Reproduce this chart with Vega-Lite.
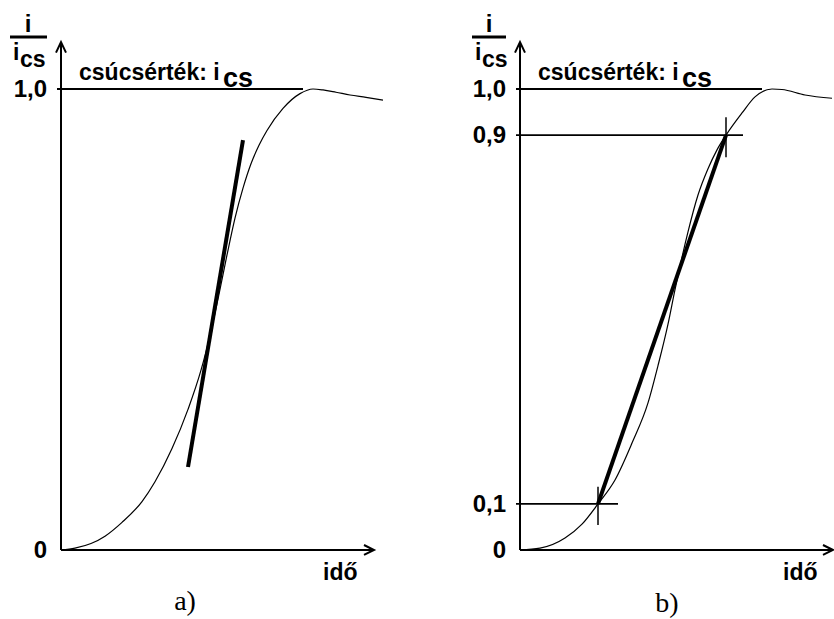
{
  "$schema": "https://vega.github.io/schema/vega-lite/v6.json",
  "background": "white",
  "padding": 0,
  "spacing": 0,
  "bounds": "flush",
  "config": {"view": {"stroke": null}, "text": {"font": "Liberation Sans", "fontWeight": "bold", "fontSize": 23, "color": "black"}},
  "datasets": {
    "curve": [
      {"p": "a", "t": 0, "v": 0}, {"p": "a", "t": 14, "v": 0.004}, {"p": "a", "t": 30, "v": 0.014}, {"p": "a", "t": 44, "v": 0.03},
      {"p": "a", "t": 61, "v": 0.06}, {"p": "a", "t": 81, "v": 0.105}, {"p": "a", "t": 94, "v": 0.148}, {"p": "a", "t": 111, "v": 0.22},
      {"p": "a", "t": 127, "v": 0.305}, {"p": "a", "t": 140, "v": 0.39}, {"p": "a", "t": 150, "v": 0.475}, {"p": "a", "t": 158, "v": 0.555},
      {"p": "a", "t": 166, "v": 0.64}, {"p": "a", "t": 174, "v": 0.72}, {"p": "a", "t": 182, "v": 0.785}, {"p": "a", "t": 190, "v": 0.838},
      {"p": "a", "t": 198, "v": 0.878}, {"p": "a", "t": 206, "v": 0.91}, {"p": "a", "t": 222, "v": 0.958}, {"p": "a", "t": 239, "v": 0.99},
      {"p": "a", "t": 252, "v": 1.0}, {"p": "a", "t": 262, "v": 0.998}, {"p": "a", "t": 275, "v": 0.993}, {"p": "a", "t": 289, "v": 0.987},
      {"p": "a", "t": 305, "v": 0.982}, {"p": "a", "t": 322, "v": 0.976},
      {"p": "b", "t": 0, "v": 0}, {"p": "b", "t": 20, "v": 0.004}, {"p": "b", "t": 45, "v": 0.026}, {"p": "b", "t": 62, "v": 0.056},
      {"p": "b", "t": 78, "v": 0.1}, {"p": "b", "t": 95, "v": 0.152}, {"p": "b", "t": 112, "v": 0.232}, {"p": "b", "t": 128, "v": 0.319},
      {"p": "b", "t": 138, "v": 0.4}, {"p": "b", "t": 148, "v": 0.49}, {"p": "b", "t": 155, "v": 0.565}, {"p": "b", "t": 162, "v": 0.635},
      {"p": "b", "t": 168, "v": 0.69}, {"p": "b", "t": 178, "v": 0.77}, {"p": "b", "t": 188, "v": 0.827}, {"p": "b", "t": 197, "v": 0.868},
      {"p": "b", "t": 206, "v": 0.9}, {"p": "b", "t": 222, "v": 0.948}, {"p": "b", "t": 235, "v": 0.983}, {"p": "b", "t": 252, "v": 1.0},
      {"p": "b", "t": 262, "v": 0.999}, {"p": "b", "t": 285, "v": 0.987}, {"p": "b", "t": 312, "v": 0.98}
    ],
    "frame": [
      {"part": "yaxis", "o": 0, "t": 0, "v": 0}, {"part": "yaxis", "o": 1, "t": 0, "v": 1.102},
      {"part": "xaxis", "o": 0, "t": 0, "v": 0}, {"part": "xaxis", "o": 1, "t": 313, "v": 0},
      {"part": "yhead", "o": 0, "t": -5, "v": 1.079}, {"part": "yhead", "o": 1, "t": 0, "v": 1.102}, {"part": "yhead", "o": 2, "t": 5, "v": 1.079},
      {"part": "xhead", "o": 0, "t": 303, "v": 0.0108}, {"part": "xhead", "o": 1, "t": 313, "v": 0}, {"part": "xhead", "o": 2, "t": 303, "v": -0.0108}
    ],
    "hlines": [
      {"p": "a", "t": -4, "t2": 242, "v": 1.0},
      {"p": "b", "t": -4, "t2": 242, "v": 1.0},
      {"p": "b", "t": -4, "t2": 223, "v": 0.9},
      {"p": "b", "t": -4, "t2": 98, "v": 0.1}
    ],
    "vticks": [
      {"p": "b", "t": 206, "v": 0.852, "v2": 0.939},
      {"p": "b", "t": 78, "v": 0.054, "v2": 0.137}
    ],
    "bars": [
      {"p": "a", "t": -51, "t2": -14, "v": 1.1128},
      {"p": "b", "t": -48, "t2": -14, "v": 1.1128}
    ],
    "thick": [
      {"p": "a", "t": 127, "v": 0.18}, {"p": "a", "t": 182, "v": 0.889},
      {"p": "b", "t": 78, "v": 0.1}, {"p": "b", "t": 206, "v": 0.9}
    ],
    "labels": [
      {"p": "a", "k": "left", "t": 18, "v": 1.0195, "label": "csúcsérték: i"},
      {"p": "a", "k": "sub", "t": 162, "v": 1.0043, "label": "cs"},
      {"p": "a", "k": "right", "t": -14, "v": 0.9826, "label": "1,0"},
      {"p": "a", "k": "right", "t": -14, "v": -0.0174, "label": "0"},
      {"p": "a", "k": "left", "t": 262, "v": -0.065, "label": "idő"},
      {"p": "a", "k": "serif", "t": 124, "v": -0.13, "label": "a)"},
      {"p": "a", "k": "center", "t": -33, "v": 1.1236, "label": "i"},
      {"p": "a", "k": "left", "t": -48, "v": 1.063, "label": "i"},
      {"p": "a", "k": "left", "t": -41, "v": 1.048, "label": "cs"},
      {"p": "b", "k": "left", "t": 18, "v": 1.0195, "label": "csúcsérték: i"},
      {"p": "b", "k": "sub", "t": 162, "v": 1.0043, "label": "cs"},
      {"p": "b", "k": "right", "t": -14, "v": 0.9826, "label": "1,0"},
      {"p": "b", "k": "right", "t": -14, "v": 0.8826, "label": "0,9"},
      {"p": "b", "k": "right", "t": -14, "v": 0.0826, "label": "0,1"},
      {"p": "b", "k": "right", "t": -14, "v": -0.0174, "label": "0"},
      {"p": "b", "k": "left", "t": 263, "v": -0.065, "label": "idő"},
      {"p": "b", "k": "serif", "t": 147, "v": -0.134, "label": "b)"},
      {"p": "b", "k": "center", "t": -31, "v": 1.1236, "label": "i"},
      {"p": "b", "k": "left", "t": -45, "v": 1.063, "label": "i"},
      {"p": "b", "k": "left", "t": -38, "v": 1.048, "label": "cs"}
    ]
  },
  "hconcat": [
    {
      "width": 390,
      "height": 619,
      "encoding": {
        "x": {"field": "t", "type": "quantitative", "scale": {"domain": [-61, 329], "nice": false, "zero": false}, "axis": null},
        "y": {"field": "v", "type": "quantitative", "scale": {"domain": [-0.1497, 1.1931], "nice": false, "zero": false}, "axis": null}
      },
      "layer": [
        {"data": {"name": "hlines"}, "transform": [{"filter": "datum.p === 'a'"}], "mark": {"type": "rule", "color": "black", "strokeWidth": 1.8}, "encoding": {"x2": {"field": "t2"}}},
        {"data": {"name": "bars"}, "transform": [{"filter": "datum.p === 'a'"}], "mark": {"type": "rule", "color": "black", "strokeWidth": 3}, "encoding": {"x2": {"field": "t2"}}},
        {"data": {"name": "frame"}, "mark": {"type": "line", "color": "black", "strokeWidth": 2, "strokeJoin": "miter"}, "encoding": {"detail": {"field": "part"}, "order": {"field": "o", "type": "quantitative"}}},
        {"data": {"name": "curve"}, "transform": [{"filter": "datum.p === 'a'"}], "mark": {"type": "line", "color": "black", "strokeWidth": 1.2, "interpolate": "monotone"}, "encoding": {}},
        {"data": {"name": "thick"}, "transform": [{"filter": "datum.p === 'a'"}], "mark": {"type": "line", "color": "black", "strokeWidth": 4}, "encoding": {}},
        {"data": {"name": "labels"}, "transform": [{"filter": "datum.p === 'a' && datum.k === 'left'"}], "mark": {"type": "text", "align": "left", "baseline": "alphabetic"}, "encoding": {"text": {"field": "label"}}},
        {"data": {"name": "labels"}, "transform": [{"filter": "datum.p === 'a' && datum.k === 'sub'"}], "mark": {"type": "text", "align": "left", "baseline": "alphabetic", "fontSize": 27}, "encoding": {"text": {"field": "label"}}},
        {"data": {"name": "labels"}, "transform": [{"filter": "datum.p === 'a' && datum.k === 'right'"}], "mark": {"type": "text", "align": "right", "baseline": "alphabetic", "fontSize": 24}, "encoding": {"text": {"field": "label"}}},
        {"data": {"name": "labels"}, "transform": [{"filter": "datum.p === 'a' && datum.k === 'center'"}], "mark": {"type": "text", "align": "center", "baseline": "alphabetic", "fontSize": 24}, "encoding": {"text": {"field": "label"}}},
        {"data": {"name": "labels"}, "transform": [{"filter": "datum.p === 'a' && datum.k === 'serif'"}], "mark": {"type": "text", "align": "center", "baseline": "alphabetic", "font": "Liberation Serif", "fontWeight": "normal", "fontSize": 28}, "encoding": {"text": {"field": "label"}}}
      ]
    },
    {
      "width": 444,
      "height": 619,
      "encoding": {
        "x": {"field": "t", "type": "quantitative", "scale": {"domain": [-130, 314], "nice": false, "zero": false}, "axis": null},
        "y": {"field": "v", "type": "quantitative", "scale": {"domain": [-0.1497, 1.1931], "nice": false, "zero": false}, "axis": null}
      },
      "layer": [
        {"data": {"name": "hlines"}, "transform": [{"filter": "datum.p === 'b'"}], "mark": {"type": "rule", "color": "black", "strokeWidth": 1.8}, "encoding": {"x2": {"field": "t2"}}},
        {"data": {"name": "vticks"}, "transform": [{"filter": "datum.p === 'b'"}], "mark": {"type": "rule", "color": "black", "strokeWidth": 1.5}, "encoding": {"y2": {"field": "v2"}}},
        {"data": {"name": "bars"}, "transform": [{"filter": "datum.p === 'b'"}], "mark": {"type": "rule", "color": "black", "strokeWidth": 3}, "encoding": {"x2": {"field": "t2"}}},
        {"data": {"name": "frame"}, "mark": {"type": "line", "color": "black", "strokeWidth": 2, "strokeJoin": "miter"}, "encoding": {"detail": {"field": "part"}, "order": {"field": "o", "type": "quantitative"}}},
        {"data": {"name": "curve"}, "transform": [{"filter": "datum.p === 'b'"}], "mark": {"type": "line", "color": "black", "strokeWidth": 1.2, "interpolate": "monotone"}, "encoding": {}},
        {"data": {"name": "thick"}, "transform": [{"filter": "datum.p === 'b'"}], "mark": {"type": "line", "color": "black", "strokeWidth": 4}, "encoding": {}},
        {"data": {"name": "labels"}, "transform": [{"filter": "datum.p === 'b' && datum.k === 'left'"}], "mark": {"type": "text", "align": "left", "baseline": "alphabetic"}, "encoding": {"text": {"field": "label"}}},
        {"data": {"name": "labels"}, "transform": [{"filter": "datum.p === 'b' && datum.k === 'sub'"}], "mark": {"type": "text", "align": "left", "baseline": "alphabetic", "fontSize": 27}, "encoding": {"text": {"field": "label"}}},
        {"data": {"name": "labels"}, "transform": [{"filter": "datum.p === 'b' && datum.k === 'right'"}], "mark": {"type": "text", "align": "right", "baseline": "alphabetic", "fontSize": 24}, "encoding": {"text": {"field": "label"}}},
        {"data": {"name": "labels"}, "transform": [{"filter": "datum.p === 'b' && datum.k === 'center'"}], "mark": {"type": "text", "align": "center", "baseline": "alphabetic", "fontSize": 24}, "encoding": {"text": {"field": "label"}}},
        {"data": {"name": "labels"}, "transform": [{"filter": "datum.p === 'b' && datum.k === 'serif'"}], "mark": {"type": "text", "align": "center", "baseline": "alphabetic", "font": "Liberation Serif", "fontWeight": "normal", "fontSize": 28}, "encoding": {"text": {"field": "label"}}}
      ]
    }
  ]
}
